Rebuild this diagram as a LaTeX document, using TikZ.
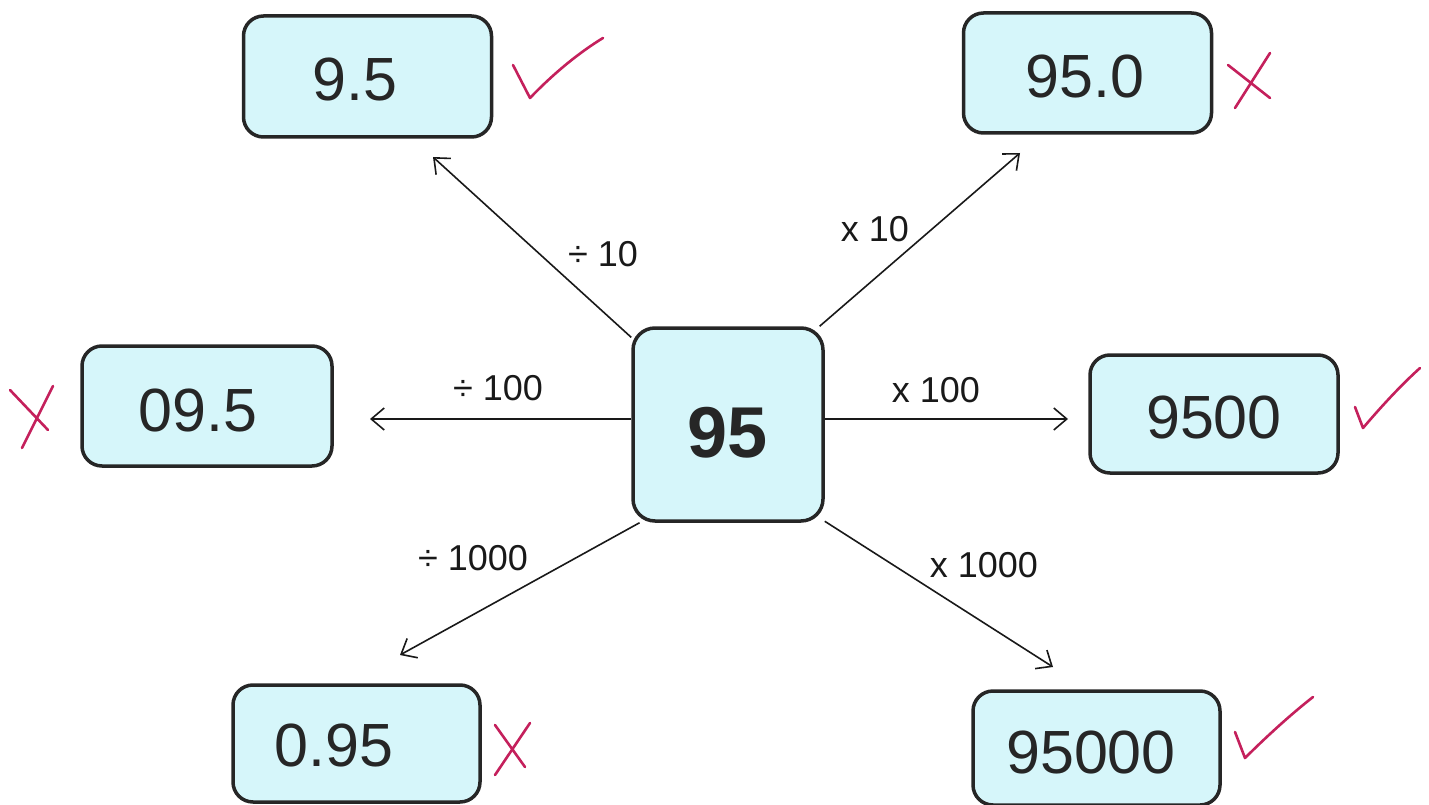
\documentclass[tikz,border=0pt]{standalone}
\usepackage{fontspec}
\setmainfont{Liberation Sans}
\usetikzlibrary{arrows.meta}
\definecolor{boxfill}{RGB}{214,246,250}
\definecolor{boxline}{RGB}{38,38,38}
\definecolor{markred}{RGB}{196,32,92}
\tikzset{
  numbox/.style={draw=boxline, fill=boxfill, line width=3.5pt, rounded corners=20pt,
    minimum width=248pt, minimum height=118pt, inner sep=0pt},
  numtext/.style={font=\fontsize{61}{70}\selectfont, text=black!85, inner sep=0pt},
  bigtext/.style={font=\fontsize{72}{80}\selectfont\bfseries, text=black!85, inner sep=0pt},
  optext/.style={font=\fontsize{36}{40}\selectfont, text=black!90, inner sep=0pt},
  arr/.style={line width=1.6pt, draw=black!90, -{Straight Barb[length=13pt,width=22pt,line width=1.6pt]}},
  tick/.style={draw=markred, line width=2.6pt, line cap=round, line join=round}
}
\begin{document}
\begin{tikzpicture}[x=1pt,y=-1pt]
\useasboundingbox (0,0) rectangle (1429,805);
% boxes
\node[numbox, minimum height=121pt] (b1) at (367.5,76.5) {};
\node[numbox, minimum height=120pt] (b2) at (1087.5,73) {};
\node[numbox, minimum height=120pt, minimum width=250pt] (b3) at (207,406) {};
\node[numbox, minimum height=118pt] (b4) at (1214,414) {};
\node[numbox, minimum height=117pt, minimum width=247pt] (b5) at (356.5,743.5) {};
\node[numbox, minimum height=114pt, minimum width=247pt] (b6) at (1096.5,748) {};
\node[numbox, minimum width=190pt, minimum height=193pt, rounded corners=22pt] (c) at (728,424.5) {};
% texts
\node[numtext] (t1) at (355,80) {9.5};
\node[numtext] (t2) at (1085,77) {95.0};
\node[numtext] (t3) at (198,410) {09.5};
\node[numtext] (t4) at (1214,417) {9500};
\node[numtext] (t5) at (334,745) {0.95};
\node[numtext] (t6) at (1091,752) {95000};
\node[bigtext] (tc) at (727.5,432.5) {95};
% operation labels
\node[optext] (l1) at (603,254) {÷ 10};
\node[optext] (l2) at (498,388) {÷ 100};
\node[optext] (l3) at (875,229) {x 10};
\node[optext] (l4) at (936,390) {x 100};
\node[optext] (l5) at (473,558) {÷ 1000};
\node[optext] (l6) at (984,565) {x 1000};
% arrow tips
\coordinate (e1) at (433,157);
\coordinate (e2) at (1020,153);
\coordinate (e3) at (370,419);
\coordinate (e4) at (1068,419);
\coordinate (e5) at (400,655);
\coordinate (e6) at (1053,667);
\draw[arr] (c.138) -- (e1);
\draw[arr] (c.47) -- (e2);
\draw[arr] (c.west |- e3) -- (e3);
\draw[arr] (c.east |- e4) -- (e4);
\draw[arr] (c.228) -- (e5);
\draw[arr] (c.315) -- (e6);
% marks
\draw[tick] (513,65) -- (530,98) .. controls (555,72) and (580,52) .. (603,38);
\draw[tick] (1228,65) -- (1270,98) (1270,53) -- (1235,108);
\draw[tick] (10,390) -- (48,430) (53,386) -- (22,448);
\draw[tick] (1355,407) -- (1363,428) .. controls (1380,408) and (1400,386) .. (1420,368);
\draw[tick] (495,725) -- (525,767) (530,723) -- (495,775);
\draw[tick] (1235,732) -- (1245,758) .. controls (1265,738) and (1290,715) .. (1313,697);
\end{tikzpicture}
\end{document}
